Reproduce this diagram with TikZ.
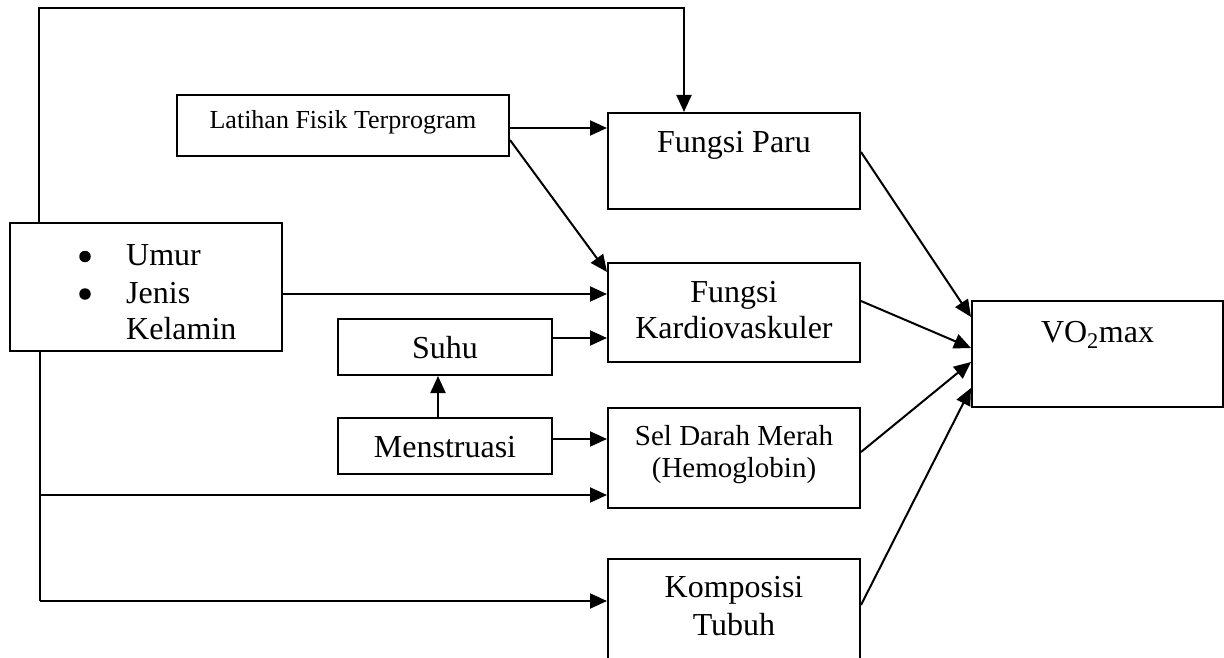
\documentclass[tikz,border=0pt]{standalone}
\usepackage{fontspec}
\setmainfont{Liberation Serif}
\usetikzlibrary{arrows.meta}
\begin{document}
\begin{tikzpicture}[x=1pt,y=-1pt,
  box/.style={draw,line width=2pt,inner sep=0pt,minimum width=#1},
  conn/.style={line width=2pt},
  arr/.style={line width=2pt,-{Triangle[length=17pt,width=15pt]}},
  bul/.style={circle,fill,inner sep=0pt,minimum size=11.5pt},
  txt/.style={anchor=base,inner sep=0pt,font=\fontsize{32}{38}\selectfont},
  small/.style={anchor=base,inner sep=0pt,font=\fontsize{26}{30}\selectfont},
  mid/.style={anchor=base,inner sep=0pt,font=\fontsize{29}{34}\selectfont}]
\useasboundingbox (0,0) rectangle (1224,658);
\clip (0,0) rectangle (1224,658);
% boxes
\node[box=332pt,minimum height=61pt] (lat) at (343,125.5) {};
\node[box=252pt,minimum height=96pt] (paru) at (734,161) {};
\node[box=272pt,minimum height=128pt] (umur) at (146,287) {};
\node[box=252pt,minimum height=99pt] (kar) at (734,312.5) {};
\node[box=214pt,minimum height=56pt] (suhu) at (445,347) {};
\node[box=251pt,minimum height=106pt] (vo) at (1097.5,354) {};
\node[box=214pt,minimum height=56pt] (men) at (445,446) {};
\node[box=252pt,minimum height=100pt] (sel) at (734,458) {};
\node[box=252pt,minimum height=110pt] (kom) at (734,614) {};
% texts
\node[small] (tlat) at (343,129) {Latihan Fisik Terprogram};
\node[txt] (tparu) at (734,153) {Fungsi Paru};
\node[bul] (tb1) at (85,256.5) {};
\node[bul] (tb2) at (85,294) {};
\node[txt,anchor=base west] (tu1) at (126,265) {Umur};
\node[txt,anchor=base west] (tu2) at (126,303) {Jenis};
\node[txt,anchor=base west] (tu3) at (126,339) {Kelamin};
\node[txt] (tk1) at (734,302) {Fungsi};
\node[txt] (tk2) at (734,338) {Kardiovaskuler};
\node[txt] (tsuhu) at (445,358) {Suhu};
\node[txt] (tmen) at (445,457) {Menstruasi};
\node[mid] (ts1) at (734,445) {Sel Darah Merah};
\node[mid] (ts2) at (734,477) {(Hemoglobin)};
\node[txt] (tk3) at (734,597) {Komposisi};
\node[txt] (tk4) at (734,635) {Tubuh};
\node[txt] (tvo) at (1097.5,342) {VO\textsubscript{2}max};
% connectors
\coordinate (c1) at (39,8);
\coordinate (c2) at (684,8);
\coordinate (b1) at (40,495);
\coordinate (b2) at (40,601);
\draw[arr] (umur.north -| c1) -- (c1) -- (c2) -- (paru.north -| c2);
\draw[arr] (lat.east |- 0,128) -- (paru.west |- 0,128);
\draw[arr] (lat.east |- 0,140) -- (kar.west |- 0,272);
\draw[arr] (umur.east |- 0,294) -- (kar.west |- 0,294);
\draw[arr] (suhu.east |- 0,338) -- (kar.west |- 0,338);
\draw[arr] (men.north -| 438,0) -- (suhu.south -| 438,0);
\draw[arr] (men.east |- 0,439) -- (sel.west |- 0,439);
\draw[conn] (umur.south -| b2) -- (b2);
\draw[arr] (b1) -- (sel.west |- b1);
\draw[arr] (b2) -- (kom.west |- b2);
\draw[arr] (paru.east |- 0,152) -- (vo.west |- 0,317);
\draw[arr] (kar.east |- 0,301) -- (vo.west |- 0,348);
\draw[arr] (sel.east |- 0,452) -- (vo.west |- 0,362);
\draw[arr] (kom.east |- 0,605) -- (vo.west |- 0,388);
\end{tikzpicture}
\end{document}
